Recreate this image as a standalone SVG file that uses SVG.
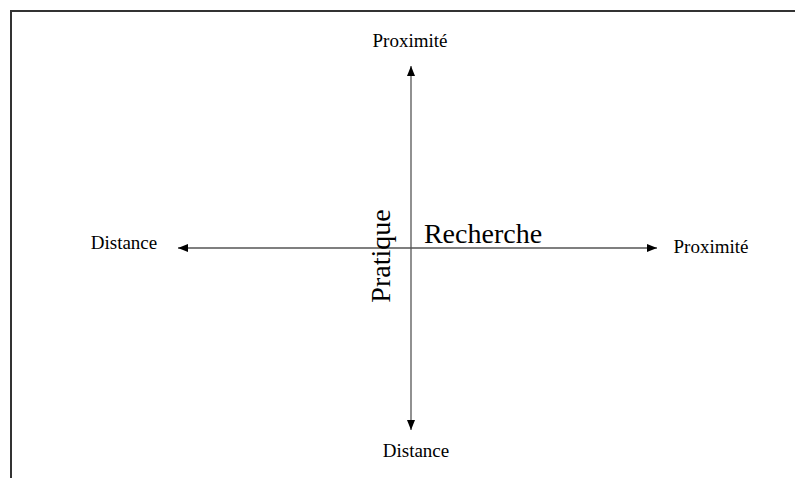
<svg xmlns="http://www.w3.org/2000/svg" width="795" height="478" viewBox="0 0 795 478">
<style>
text{font-family:"Liberation Serif","Times New Roman",serif;fill:#000}
.lbl{font-size:19px}
.big{font-size:28px}
.ax{stroke:#555;stroke-width:1.3;fill:none}
</style>
<defs>
<marker id="ah" viewBox="0 0 10 8" refX="10" refY="4" markerWidth="10" markerHeight="8" markerUnits="userSpaceOnUse" orient="auto">
<path d="M0,0 L10,4 L0,8 Z" fill="#000"/>
</marker>
</defs>
<rect width="795" height="478" fill="#fff"/>
<g id="frame" stroke="#333" stroke-width="2" fill="none">
<path d="M11,478 V11 H795"/>
</g>
<g id="connectors">
<line class="ax" x1="411" y1="248" x2="411" y2="66" marker-end="url(#ah)"/>
<line class="ax" x1="411" y1="248" x2="411" y2="430" marker-end="url(#ah)"/>
<line class="ax" x1="411" y1="248" x2="178" y2="248" marker-end="url(#ah)"/>
<line class="ax" x1="411" y1="248" x2="657" y2="248" marker-end="url(#ah)"/>
</g>
<g id="top"><text class="lbl" x="410" y="47" text-anchor="middle">Proximité</text></g>
<g id="bottom"><text class="lbl" x="416" y="457" text-anchor="middle">Distance</text></g>
<g id="left"><text class="lbl" x="124" y="249" text-anchor="middle">Distance</text></g>
<g id="right"><text class="lbl" x="711" y="253" text-anchor="middle">Proximité</text></g>
<g id="recherche"><text class="big" x="483" y="243" text-anchor="middle">Recherche</text></g>
<g id="pratique"><text class="big" transform="translate(390,256) rotate(-90)" text-anchor="middle">Pratique</text></g>
</svg>
